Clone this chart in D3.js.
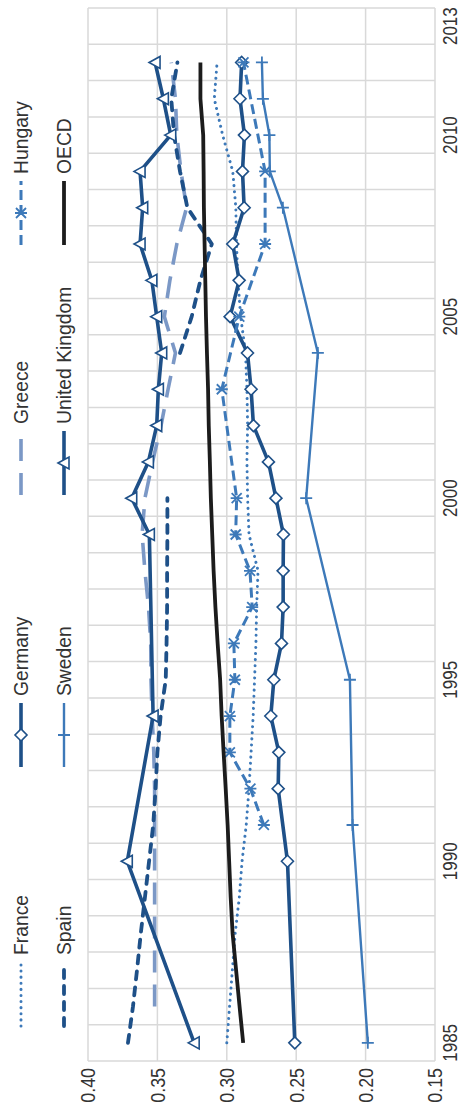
<!DOCTYPE html>
<html lang="en">
<head>
    <meta charset="UTF-8">
    <title>Income inequality</title>
    <script src="https://cdn.jsdelivr.net/npm/d3@7/dist/d3.min.js"></script>
    <style>
        body { margin: 0; background: #fff; }
        svg text { font-family: "Liberation Sans", Arial, sans-serif; fill: #333; }
        .grid line { stroke: #d9d9d9; stroke-width: 1.5; }
    </style>
</head>
<body>
<script>
    // years on the category axis, 1985 .. 2013
    const years = d3.range(1985, 2014);
    const yearLabels = [1985, 1990, 1995, 2000, 2005, 2010, 2013];
    const valueTicks = [0.15, 0.20, 0.25, 0.30, 0.35, 0.40];

    // series values, index 0 = 1985, null = no data
    const france = [0.300, 0.298, 0.296, 0.294, 0.291, 0.289, 0.286, 0.284, 0.2825, 0.281,
        0.280, 0.279, 0.2785, 0.2775, 0.284, 0.285, 0.2855, 0.285, 0.2855, 0.2865,
        0.290, 0.292, 0.293, 0.2935, 0.2957, 0.303, 0.309, 0.307, null];
    const germany = [0.251, null, null, null, null, 0.2563, null, 0.263, 0.2625, 0.2683,
        0.2661, 0.2606, 0.2594, 0.2594, 0.2592, 0.2646, 0.270, 0.2808, 0.2825, 0.2851,
        0.2976, 0.2911, 0.2957, 0.2875, 0.2887, 0.2873, 0.2905, 0.2893, null];
    const greece = [null, 0.352, 0.352, 0.352, 0.352, 0.352, 0.352, 0.352, 0.3526, 0.3538,
        0.3546, 0.3548, 0.3564, 0.359, 0.361, 0.359, 0.3535, 0.3474, 0.3423, 0.337,
        0.345, 0.341, 0.336, 0.329, 0.333, 0.336, 0.337, 0.340, null];
    const hungary = [null, null, null, null, null, null, 0.2733, 0.283, 0.2978, 0.2978,
        0.2942, 0.2949, 0.2817, 0.2833, 0.2936, 0.2929, null, null, 0.3036, null,
        0.291, null, 0.2724, null, 0.2724, null, null, 0.288, null];
    const spain = [0.3712, 0.3676, 0.3647, 0.362, 0.359, 0.356, 0.353, 0.3513, 0.350, 0.3477,
        0.344, 0.3434, 0.343, 0.343, 0.3428, 0.3428, null, null, null, 0.3337,
        0.3253, 0.319, 0.3108, 0.3284, 0.3337, 0.338, 0.340, 0.3356, null];
    const sweden = [0.1984, null, null, null, null, null, 0.2094, null, null, null,
        0.2113, null, null, null, null, 0.2428, null, null, null, 0.2344,
        null, null, null, 0.2596, 0.2690, 0.2693, 0.274, 0.2747, null];
    const uk = [0.3235, null, null, null, null, 0.3717, null, null, null, 0.3531,
        null, null, null, null, 0.3558, 0.3685, 0.3565, 0.3505, 0.3493, 0.3469,
        0.3505, 0.354, 0.3625, 0.3606, 0.3625, 0.3404, 0.3457, 0.3517, null];
    const oecd = [0.2882, 0.2908, 0.2933, 0.2958, 0.2972, 0.2983, 0.2994, 0.3008, 0.3023, 0.3037,
        0.3048, 0.3066, 0.3082, 0.3095, 0.3105, 0.3115, 0.3122, 0.313, 0.3135, 0.3143,
        0.315, 0.3155, 0.316, 0.3165, 0.3167, 0.317, 0.319, 0.319, null];

    const dark = '#1e5088', mid = '#3d79b9', light = '#7b98c6', black = '#1c1c1c';

    // chart is laid out landscape (W x H) and turned a quarter turn
    const W = 1112, H = 463;
    const svg = d3.select('body').append('svg')
        .attr('width', H)
        .attr('height', W);
    const g = svg.append('g')
        .attr('transform', `translate(0,${W}) rotate(-90)`);

    const band = d3.scaleBand().domain(years).range([51, 1104]);
    const x = d => band(d) + band.bandwidth() / 2;
    const y = d3.scaleLinear().domain([0.15, 0.40]).range([435, 88]);

    // grid
    const grid = g.append('g').attr('class', 'grid');
    grid.selectAll('.gx')
        .data(years.concat([null]))
        .enter().append('line')
        .attr('x1', d => d === null ? 1104 : band(d))
        .attr('x2', d => d === null ? 1104 : band(d))
        .attr('y1', 88).attr('y2', 435);
    grid.selectAll('.gy')
        .data(valueTicks)
        .enter().append('line')
        .attr('x1', 51).attr('x2', 1104)
        .attr('y1', d => y(d)).attr('y2', d => y(d));

    // axis labels
    g.selectAll('.vlab')
        .data(valueTicks)
        .enter().append('text')
        .attr('transform', d => `translate(44,${y(d)}) scale(0.85,1)`)
        .attr('dy', '0.35em')
        .attr('text-anchor', 'end')
        .style('font-size', '21px')
        .text(d => d.toFixed(2));
    g.selectAll('.ylab')
        .data(yearLabels)
        .enter().append('text')
        .attr('transform', d => `translate(${x(d)},457) scale(0.85,1)`)
        .attr('text-anchor', 'middle')
        .style('font-size', '20px')
        .text(d => d);

    // markers
    function drawMarker(sel, type, color) {
        if (type === 'diamond') {
            sel.append('path').attr('d', 'M-6,0L0,-6L6,0L0,6Z')
                .attr('fill', '#fff').attr('stroke', color).attr('stroke-width', 1.6);
        } else if (type === 'triangle') {
            sel.append('path').attr('d', 'M0,-6L6,5L-6,5Z')
                .attr('fill', '#fff').attr('stroke', color).attr('stroke-width', 1.6);
        } else if (type === 'plus') {
            sel.append('path').attr('d', 'M-6,0L6,0M0,-6L0,6')
                .attr('stroke', color).attr('stroke-width', 1.8);
        } else if (type === 'star') {
            sel.append('path').attr('d', 'M0,-6L0,6M-5,-5L5,5M-5,5L5,-5')
                .attr('stroke', color).attr('stroke-width', 1.8);
        }
    }

    const series = [
        {name: 'France', values: france, color: mid, width: 3, dash: '0.1,6', cap: 'round', gaps: false},
        {name: 'Germany', values: germany, color: dark, width: 3.6, marker: 'diamond', gaps: false},
        {name: 'Greece', values: greece, color: light, width: 3.6, dash: '22,12', cap: 'butt', gaps: false},
        {name: 'Hungary', values: hungary, color: mid, width: 3, dash: '10,5', cap: 'butt', marker: 'star', gaps: false},
        {name: 'Spain', values: spain, color: dark, width: 3.8, dash: '8,8', cap: 'round', gaps: true},
        {name: 'Sweden', values: sweden, color: mid, width: 2.4, marker: 'plus', gaps: false},
        {name: 'United Kingdom', values: uk, color: dark, width: 3.6, marker: 'triangle', gaps: false},
        {name: 'OECD', values: oecd, color: black, width: 3.8, gaps: false}
    ];

    const plot = g.append('g');
    series.forEach(s => {
        let pts = years.map((yr, i) => ({yr: yr, v: s.values[i]}));
        if (!s.gaps) pts = pts.filter(p => p.v !== null);
        const line = d3.line()
            .defined(p => p.v !== null)
            .x(p => x(p.yr))
            .y(p => y(p.v));
        plot.append('path')
            .attr('d', line(pts))
            .attr('fill', 'none')
            .attr('stroke', s.color)
            .attr('stroke-width', s.width)
            .attr('stroke-linejoin', 'round')
            .attr('stroke-linecap', s.cap || 'butt')
            .attr('stroke-dasharray', s.dash || null);
        if (s.marker) {
            pts.filter(p => p.v !== null).forEach(p => {
                const m = plot.append('g').attr('transform', `translate(${x(p.yr)},${y(p.v)})`);
                drawMarker(m, s.marker, s.color);
            });
        }
    });

    // legend, two rows of four
    const legX = [86, 345, 617, 867];
    const legY = [21, 64];
    series.forEach((s, i) => {
        const lx = legX[i % 4], ly = legY[Math.floor(i / 4)];
        const item = g.append('g');
        item.append('line')
            .attr('x1', lx).attr('x2', lx + 64)
            .attr('y1', ly).attr('y2', ly)
            .attr('stroke', s.color)
            .attr('stroke-width', s.width)
            .attr('stroke-linecap', s.cap || 'butt')
            .attr('stroke-dasharray', s.dash || null);
        if (s.marker) {
            drawMarker(item.append('g').attr('transform', `translate(${lx + 32},${ly})`), s.marker, s.color);
        }
        item.append('text')
            .attr('transform', `translate(${lx + 71},${ly}) scale(0.92,1)`)
            .attr('dy', '0.35em')
            .style('font-size', '21px')
            .text(s.name);
    });
</script>
</body>
</html>
